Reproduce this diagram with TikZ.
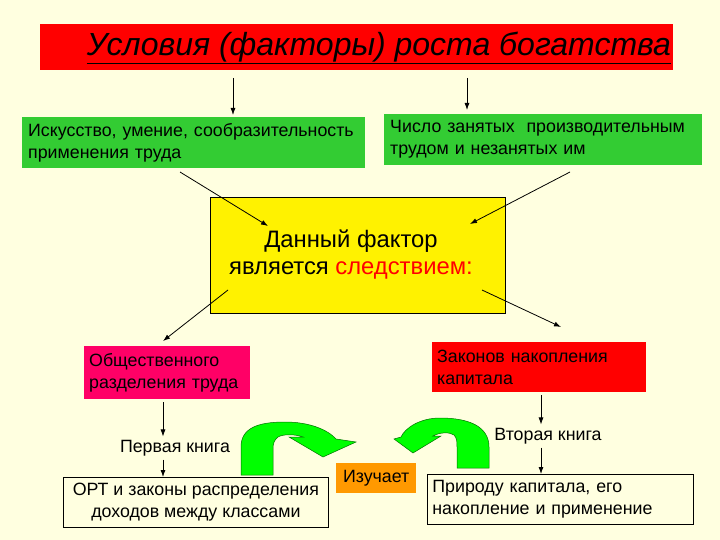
\documentclass[tikz,border=0pt]{standalone}
\usepackage{fontspec}
\setmainfont{Liberation Sans}
\usetikzlibrary{arrows.meta}
\definecolor{bg}{RGB}{255,255,224}
\definecolor{boxgreen}{RGB}{51,204,51}
\definecolor{brightgreen}{RGB}{0,255,0}
\definecolor{pinkred}{RGB}{255,0,102}
\definecolor{orangebox}{RGB}{255,153,0}
\definecolor{darkedge}{RGB}{0,110,0}
\begin{document}
\begin{tikzpicture}[x=1pt,y=-1pt,
  rect/.style n args={2}{anchor=north west, minimum width=#1, minimum height=#2, inner xsep=0pt, inner ysep=0pt},
  lefttext/.style={align=left, font=\fontsize{17.8}{22}\selectfont},
  lbl/.style={font=\fontsize{17.8}{22}\selectfont},
  arr/.style={-{Latex[length=7pt,width=5pt]}, line width=0.8pt},
  uturn/.style={fill=brightgreen, draw=darkedge, line width=0.5pt}]
\useasboundingbox (0,0) rectangle (720,540);
\fill[bg] (0,0) rectangle (720,540);

% title
\node[rect={633}{46}, fill=red] (title) at (40,24) {};
\node[font=\fontsize{32}{38}\selectfont\itshape] (titletext) at (379,48) {\underline{Условия (факторы) роста богатства}};

% green boxes
\node[rect={343}{51}, fill=boxgreen, lefttext, text width=331pt, inner xsep=6pt] (g1) at (22,117)
  {Искусство, умение, сообразительность\\применения труда};
\node[rect={318}{51}, fill=boxgreen, lefttext, text width=306pt, inner xsep=6pt] (g2) at (384,114)
  {Число занятых\ \ производительным\\трудом и незанятых им};

% yellow box
\node[rect={295}{116}, fill=yellow, draw=black, line width=0.8pt] (ybox) at (210,197) {};
\node[align=center, font=\fontsize{23.8}{27}\selectfont] (ytext) at (351,255)
  {Данный фактор\\является \textcolor{red}{следствием:}};

% pink and red boxes
\node[rect={166}{53}, fill=pinkred, lefttext, text width=156pt, inner xsep=5pt] (p1) at (84,346)
  {Общественного\\разделения труда};
\node[rect={214}{50}, fill=red, lefttext, text width=204pt, inner xsep=5pt] (r1) at (432,342)
  {Законов накопления\\капитала};

% bottom boxes
\node[rect={265}{50}, draw=black, line width=0.8pt, align=center, lbl] (ort) at (63,477)
  {ОРТ и законы распределения\\доходов между классами};
\node[rect={264}{50}, draw=black, line width=0.8pt, lefttext, text width=256pt, inner xsep=5pt] (prir) at (427,474)
  {Природу капитала, его\\накопление и применение};
\node[rect={80}{30}, fill=orangebox, lbl] (izu) at (336,463) {Изучает};

% labels
\node[lbl] (kn1) at (175,448) {Первая книга};
\node[lbl] (kn2) at (548,436) {Вторая книга};

% connectors
\coordinate (t1) at (233,78);
\coordinate (t2) at (467,78);
\draw[arr] (t1) -- ([yshift=2pt]g1.north -| t1);
\draw[arr] (t2) -- ([yshift=4pt]g2.north -| t2);

\coordinate (g1s) at (180,172);
\coordinate (g1e) at (268,226);
\coordinate (g2s) at (570,172);
\coordinate (g2e) at (470,224);
\draw[arr] (g1s) -- (g1e);
\draw[arr] (g2s) -- (g2e);

\coordinate (y1s) at (228,290);
\coordinate (y1e) at (163,341);
\coordinate (y2s) at (482,290);
\coordinate (y2e) at (561,327);
\draw[arr] (y1s) -- (y1e);
\draw[arr] (y2s) -- (y2e);

\coordinate (p1x) at (163,0);
\draw[arr] ([yshift=-3pt]p1.south -| p1x) -- (kn1.north -| p1x);
\draw[arr] (kn1.south -| p1x) -- (ort.north -| p1x);
\coordinate (r1x) at (541,0);
\draw[arr] ([yshift=-3pt]r1.south -| r1x) -- (kn2.north -| r1x);
\draw[arr] (kn2.south -| r1x) -- (prir.north -| r1x);

% U-turn arrows
\path[uturn] (241,475) -- (241,447) .. controls (241,428) and (258,422) .. (285,422)
  .. controls (310,422) and (328,430) .. (336,439) -- (356,442) -- (323,457) -- (289,437) -- (303,437)
  .. controls (295,434) and (283,434) .. (278,437) .. controls (274,440) and (273,444) .. (273,449)
  -- (273,475) -- cycle;
\path[uturn] (489,468) -- (489,447) .. controls (489,427) and (470,418) .. (440,418)
  .. controls (420,418) and (405,428) .. (401,437) -- (394,439) -- (413,453) -- (441,436) -- (433,436)
  .. controls (440,432) and (450,432) .. (454,435) .. controls (457,438) and (457,442) .. (457,447)
  -- (457,468) -- cycle;
\end{tikzpicture}
\end{document}
